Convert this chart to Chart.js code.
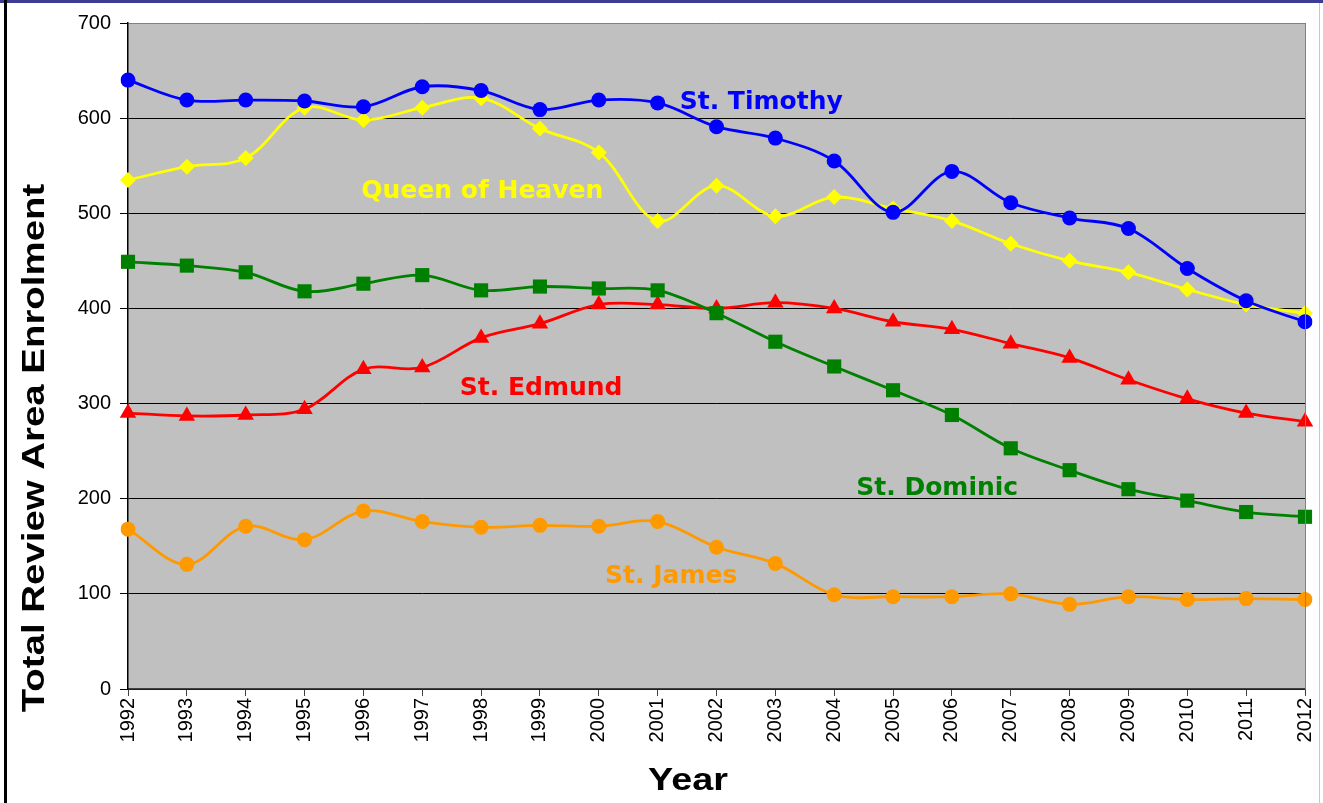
<!DOCTYPE html>
<html>
<head>
<meta charset="utf-8">
<script src="https://cdn.jsdelivr.net/npm/chart.js@4.4.1/dist/chart.umd.min.js"></script>
<style>
  html, body { margin: 0; padding: 0; background: #fff; }
  #wrap { position: relative; width: 1323px; height: 803px; overflow: hidden; }
  #c { position: absolute; left: 0; top: 0; }
  .fTop { position: absolute; left: 0; top: 0; width: 1323px; height: 3px; background: #3c3c94; }
  .fLeft { position: absolute; left: 4px; top: 0; width: 3px; height: 803px; background: #000; }
  .fRight { position: absolute; left: 1319px; top: 3px; width: 1px; height: 800px; background: #c8c8c8; }
</style>
</head>
<body>
<div id="wrap">
  <canvas id="c" width="1323" height="803"></canvas>
  <div class="fTop"></div>
  <div class="fLeft"></div>
  <div class="fRight"></div>
</div>
<script>
const years = ['1992','1993','1994','1995','1996','1997','1998','1999','2000','2001','2002','2003','2004','2005','2006','2007','2008','2009','2010','2011','2012'];
const stTimothy     = [640,619,619,618,612,633,629,609,619,616,591,579,555,501,544,511,495,484,442,408,386];
const queenOfHeaven = [535,549,558,611,598,611,621,589,564,492,529,497,517,505,492,468,450,438,420,404,395];
const stDominic     = [449,445,438,418,426,435,419,423,421,419,395,365,339,314,288,253,230,210,198,186,181];
const stEdmund      = [290,287,288,294,336,338,369,384,404,404,400,406,400,386,378,363,348,325,305,290,281];
const stJames       = [168,131,171,157,187,176,170,172,171,176,149,132,99,97,97,100,89,97,94,95,94];
const yTicks = [0,100,200,300,400,500,600,700];
// label anchors in data space: [category index, value]
const labelAnchors = {
  'St. Timothy': [10.76, 616],
  'Queen of Heaven': [6.02, 523],
  'St. Edmund': [7.02, 316],
  'St. Dominic': [13.75, 211],
  'St. James': [9.23, 118]
};
const colors = { 'St. Timothy':'#0000FF', 'Queen of Heaven':'#FFFF00', 'St. Dominic':'#008000', 'St. Edmund':'#FF0000', 'St. James':'#FF9900' };

function ds(name, data, style, r) {
  return {
    label: name, data: data,
    borderColor: colors[name], backgroundColor: colors[name],
    pointBackgroundColor: colors[name], pointBorderColor: colors[name],
    pointStyle: style, pointRadius: r, pointHoverRadius: r, pointBorderWidth: 0,
    borderWidth: 2.8, tension: 0.35, fill: false
  };
}

const decor = {
  id: 'decor',
  beforeDraw(chart) {
    const {ctx, chartArea: a} = chart;
    ctx.save();
    ctx.fillStyle = '#C0C0C0';
    ctx.fillRect(a.left, a.top, a.right - a.left, a.bottom - a.top);
    ctx.restore();
  },
  afterDatasetsDraw(chart) {
    const {ctx, chartArea: a, scales} = chart;
    ctx.save();
    ctx.strokeStyle = '#808080'; ctx.lineWidth = 1;
    ctx.beginPath(); ctx.moveTo(a.right + 0.5, a.top); ctx.lineTo(a.right + 0.5, a.bottom); ctx.stroke();
    ctx.font = 'bold 25px "DejaVu Sans"';
    ctx.textAlign = 'center'; ctx.textBaseline = 'middle';
    for (const name of Object.keys(labelAnchors)) {
      const [xi, v] = labelAnchors[name];
      ctx.fillStyle = colors[name];
      ctx.fillText(name, scales.x.getPixelForValue(xi), scales.y.getPixelForValue(v));
    }
    ctx.fillStyle = '#000';
    ctx.save();
    ctx.translate(35, 448);
    ctx.rotate(-Math.PI / 2);
    ctx.scale(1.2, 1);
    ctx.font = 'bold 32px "Liberation Sans"';
    ctx.fillText('Total Review Area Enrolment', 0, 0);
    ctx.restore();
    ctx.save();
    ctx.translate(688, 781);
    ctx.scale(1.22, 1);
    ctx.font = 'bold 31px "Liberation Sans"';
    ctx.fillText('Year', 0, 0);
    ctx.restore();
    ctx.restore();
  }
};

new Chart(document.getElementById('c'), {
  type: 'line',
  data: {
    labels: years,
    datasets: [
      ds('St. Timothy', stTimothy, 'circle', 7.5),
      ds('Queen of Heaven', queenOfHeaven, 'rectRot', 8),
      ds('St. Dominic', stDominic, 'rect', 10),
      ds('St. Edmund', stEdmund, 'triangle', 9.5),
      ds('St. James', stJames, 'circle', 7.5)
    ]
  },
  options: {
    responsive: false,
    animation: false,
    events: [],
    layout: { padding: { left: 8, right: 18, top: 23, bottom: 0 } },
    plugins: { legend: { display: false }, tooltip: { enabled: false } },
    scales: {
      x: {
        type: 'category', offset: false,
        afterFit(s) { s.height = 114; s.paddingLeft = 0; s.paddingRight = 0; },
        grid: { display: true, drawOnChartArea: false, drawTicks: true, tickLength: 7, tickColor: '#404040', tickWidth: 1 },
        border: { display: true, color: '#404040', width: 1.5 },
        ticks: { color: '#000', font: { family: '"Liberation Sans"', size: 20 }, minRotation: 90, maxRotation: 90, autoSkip: false, padding: 2 }
      },
      y: {
        min: 0, max: 700,
        afterFit(s) { s.width = 120; s.paddingTop = 0; s.paddingBottom = 0; },
        afterBuildTicks(s) { s.ticks = yTicks.map(v => ({ value: v })); },
        grid: {
          color: (c) => (c.tick && c.tick.value === 700) ? '#808080' : '#000',
          tickColor: '#000', tickLength: 8, lineWidth: 1
        },
        border: { display: true, color: '#000', width: 1.5 },
        ticks: { color: '#000', font: { family: '"Liberation Sans"', size: 20 }, padding: 9 }
      }
    }
  },
  plugins: [decor]
});
</script>
</body>
</html>
